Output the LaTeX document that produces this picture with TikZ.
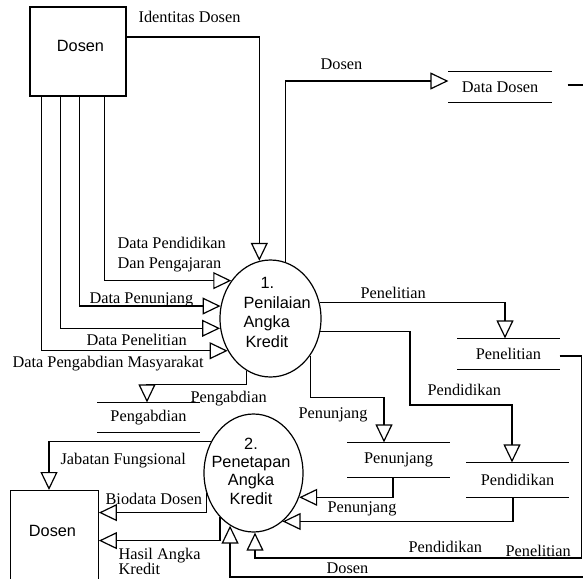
\documentclass[tikz,border=0pt]{standalone}
\usepackage{fontspec}
\setmainfont{Liberation Serif}
\setsansfont{Liberation Sans}
\usetikzlibrary{arrows.meta,shapes.geometric}
\begin{document}
\begin{tikzpicture}[x=1pt,y=-1pt, line width=1.2pt,
  arr/.style={-{Triangle[open,length=18pt,width=17pt]}},
  lbl/.style={font=\fontsize{16.3}{20}\selectfont, inner sep=0pt, anchor=base west},
  store/.style={font=\fontsize{16.3}{20}\selectfont, inner sep=0pt, minimum width=101pt,
    append after command={(\tikzlastnode.north west) edge (\tikzlastnode.north east)
                          (\tikzlastnode.south west) edge (\tikzlastnode.south east)}},
  proc/.style={ellipse, draw, inner sep=0pt},
  ent/.style={draw, inner sep=0pt, font=\sffamily\fontsize{16.3}{20}\selectfont},
  ptext/.style={inner sep=0pt}
]
\clip (0,0) rectangle (583,578);

% entities
\node[ent, minimum width=96pt, minimum height=89pt] (dosen1) at (78,51.5) {\hspace*{5pt}\raisebox{11pt}{Dosen}};
\node[ent, minimum width=87.6pt, minimum height=130pt, anchor=north] (dosen2) at (54.5,490) {\raisebox{50pt}{Dosen}\hspace*{4pt}};

% processes
\node[proc, minimum width=101pt, minimum height=117pt] (e1) at (270.5,318.5) {};
\node[ptext, align=left, anchor=north west, font=\sffamily\fontsize{16.3}{19.9}\selectfont] (e1t) at (243,276.3)
  {\hspace*{17pt}1.\\Penilaian\\Angka\\\hspace*{2pt}Kredit};
\node[proc, minimum width=99pt, minimum height=118pt] (e2) at (253.5,473) {};
\node[ptext, align=center, anchor=north, font=\sffamily\fontsize{16.3}{18.3}\selectfont] (e2t) at (251,437.3)
  {2.\\Penetapan\\Angka\\Kredit};

% data stores
\node[store, minimum width=102pt, minimum height=30pt] (dd) at (500,87) {Data Dosen};
\node[store, minimum height=30pt] (pens) at (508.5,354) {Penelitian};
\node[store, minimum height=34pt] (pend) at (517.5,480) {Pendidikan};
\node[store, minimum height=34pt] (penj) at (398.5,460) {Penunjang};
\node[store, minimum height=29pt] (peng) at (148.5,417.5) {Pengabdian};

% flows into process 1
\draw[arr] ([yshift=14.5pt]dosen1.east) -| (e1.101.4);
\draw[arr] ([xshift=26.7pt]dosen1.south) |- (e1.136);
\draw[arr] ([xshift=1.3pt]dosen1.south) |- (e1.166.9);
\draw[arr] ([xshift=-17.3pt]dosen1.south) |- (e1.191.9);
\draw[arr] ([xshift=-36.3pt]dosen1.south) |- (e1.217.7);

% flows out of process 1
\draw[arr] (e1.75.5) |- ([yshift=6pt]dd.west);
\draw ([xshift=16pt,yshift=2pt]dd.east) -- ++(20,0);
\draw[arr] (e1.18.8) -| ([xshift=-3.5pt]pens.north);
\draw[arr] (e1.345) -| (410,405) -| ([xshift=-5.5pt]pend.north);
\draw[arr] (e1.317.3) -- ++(0,42) -| ([xshift=-14.5pt]penj.north);
\draw[arr] (e1.245.6) -- ++(0,13.7) -| ([xshift=-1.5pt]peng.north);

% flows of process 2
\draw[arr] (e2.143.6) -| ([xshift=-5.5pt]dosen2.north);
\draw[arr] (e2.203.5) |- ([yshift=43pt]dosen2.east);
\draw[arr] (e2.233.9) |- ([yshift=15pt]dosen2.east);
\draw[arr] ([xshift=-5.5pt]penj.south) |- (e2.332);
\draw[arr] ([xshift=-4.5pt]pend.south) |- (e2.301);
\draw[arr] ([yshift=-2pt]pens.east) -- ++(22,0) -- ++(0,202) -| ([xshift=1.5pt]e2.south);
\coordinate (dosenin) at (600,577);
\draw[arr] (dosenin) -| (e2.246.8);

% labels
\node[lbl] (l1) at (138,22.5) {Identitas Dosen};
\node[lbl] (l2) at (320,69.5) {Dosen};
\node[lbl, anchor=north west, align=left] (l3) at (117,236.4) {Data Pendidikan\\Dan Pengajaran};
\node[lbl] (l4) at (89,303.5) {Data Penunjang};
\node[lbl] (l5) at (86,345.5) {Data Penelitian};
\node[lbl] (l6) at (12,367.5) {Data Pengabdian Masyarakat};
\node[lbl] (l7) at (190,402.5) {Pengabdian};
\node[lbl] (l8) at (360,298.5) {Penelitian};
\node[lbl] (l9) at (427,395.5) {Pendidikan};
\node[lbl] (l10) at (298,418.5) {Penunjang};
\node[lbl] (l11) at (60,464.5) {Jabatan Fungsional};
\node[lbl] (l12) at (105,504.5) {Biodata Dosen};
\node[lbl, anchor=north west, align=left, font=\fontsize{16.3}{15.5}\selectfont] (l13) at (118,547.4) {Hasil Angka\\Kredit};
\node[lbl] (l14) at (327,512.5) {Penunjang};
\node[lbl] (l15) at (408,552.5) {Pendidikan};
\node[lbl] (l16) at (505,556.5) {Penelitian};
\node[lbl] (l17) at (326,573.5) {Dosen};
\end{tikzpicture}
\end{document}
